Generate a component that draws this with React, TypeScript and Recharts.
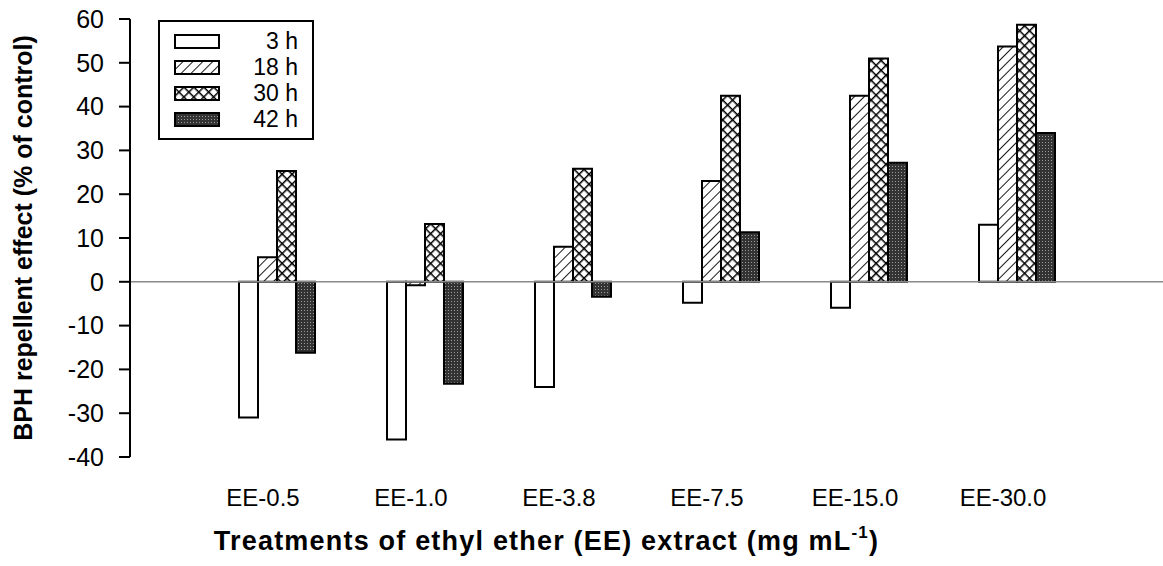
import React from "react";
import {
  BarChart,
  Bar,
  XAxis,
  YAxis,
  ReferenceLine,
  Label,
} from "recharts";

const categories = ["EE-0.5", "EE-1.0", "EE-3.8", "EE-7.5", "EE-15.0", "EE-30.0"];
const h3 = [-31, -36, -24, -4.8, -5.9, 13];
const h18 = [5.6, -0.8, 8, 23, 42.5, 53.7];
const h30 = [25.3, 13.2, 25.8, 42.5, 51, 58.7];
const h42 = [-16.2, -23.3, -3.4, 11.3, 27.2, 34];
const yTicks = [-40, -30, -20, -10, 0, 10, 20, 30, 40, 50, 60];

const series = [
  { key: "h3", name: "3 h", fill: "#ffffff" },
  { key: "h18", name: "18 h", fill: "url(#hatch18)" },
  { key: "h30", name: "30 h", fill: "url(#cross30)" },
  { key: "h42", name: "42 h", fill: "url(#dots42)" },
];

const data = categories.map((name, i) => ({
  name,
  h3: h3[i],
  h18: h18[i],
  h30: h30[i],
  h42: h42[i],
}));

const font = "'Liberation Sans', Arial, sans-serif";

// legend drawn as an overlay box, like the original figure
const LegendBox = () => (
  <div
    style={{
      position: "absolute",
      left: 158,
      top: 20,
      border: "2px solid #000",
      width: 152,
      padding: "6px 0",
      background: "#fff",
      fontFamily: font,
      fontSize: 23,
    }}
  >
    {series.map((s) => (
      <div key={s.key} style={{ display: "flex", alignItems: "center", height: 26 }}>
        <svg width={46} height={15} style={{ marginLeft: 14 }}>
          <rect x={1} y={1} width={44} height={13} fill={s.fill} stroke="#000" strokeWidth={2} />
        </svg>
        <span style={{ flex: 1, textAlign: "right", paddingRight: 14 }}>{s.name}</span>
      </div>
    ))}
  </div>
);

const XTick = ({ x, y, payload }: any) => (
  <text x={x - 14} y={y} dy="0.71em" textAnchor="middle" fontFamily={font} fontSize={24} fill="#000">
    {payload.value}
  </text>
);

export default function App() {
  return (
    <div style={{ position: "absolute", left: 0, top: 0, width: 1163, height: 566 }}>
      <BarChart
        width={1163}
        height={566}
        data={data}
        margin={{ top: 19, right: 0, bottom: 0, left: 0 }}
        barGap={0}
        barSize={19}
      >
        <defs>
          <pattern id="hatch18" width="7" height="7" patternUnits="userSpaceOnUse" patternTransform="rotate(45)">
            <rect width="7" height="7" fill="#fff" />
            <line x1="0" y1="0" x2="0" y2="7" stroke="#000" strokeWidth="1.8" />
          </pattern>
          <pattern id="cross30" width="7" height="7" patternUnits="userSpaceOnUse" patternTransform="rotate(45)">
            <rect width="7" height="7" fill="#fff" />
            <line x1="0" y1="0" x2="0" y2="7" stroke="#000" strokeWidth="3" />
            <line x1="0" y1="0" x2="7" y2="0" stroke="#000" strokeWidth="3" />
          </pattern>
          <pattern id="dots42" width="3" height="3" patternUnits="userSpaceOnUse">
            <rect width="3" height="3" fill="#333" />
            <rect x="1" y="1" width="1" height="1" fill="#999" />
          </pattern>
        </defs>
        <XAxis
          dataKey="name"
          axisLine={false}
          tickLine={false}
          tickSize={0}
          tickMargin={32}
          height={109}
          padding={{ left: 73, right: 72 }}
          tick={<XTick />}
        >
          <Label
            content={({ viewBox }: any) => (
              <text
                x={viewBox.x + viewBox.width / 2 - 100}
                y={viewBox.y + 93}
                textAnchor="middle"
                fontFamily={font}
                fontWeight="bold"
                fontSize={27}
                letterSpacing={1.2}
                fill="#000"
              >
                Treatments of ethyl ether (EE) extract (mg mL
                <tspan fontSize={17} dy={-12}>-1</tspan>
                <tspan dy={12}>)</tspan>
              </text>
            )}
          />
        </XAxis>
        <YAxis
          width={130}
          domain={[-40, 60]}
          ticks={yTicks}
          interval={0}
          stroke="#000"
          strokeWidth={2}
          tickSize={11}
          tickMargin={15}
          tick={{ fontSize: 25, fill: "#000", fontFamily: font }}
        >
          <Label
            content={({ viewBox }: any) => {
              const cx = viewBox.x + 23;
              const cy = viewBox.y + viewBox.height / 2;
              return (
                <text
                  x={cx}
                  y={cy}
                  transform={`rotate(-90 ${cx} ${cy})`}
                  textAnchor="middle"
                  dominantBaseline="central"
                  fontFamily={font}
                  fontWeight="bold"
                  fontSize={25}
                  fill="#000"
                >
                  BPH repellent effect (% of control)
                </text>
              );
            }}
          />
        </YAxis>
        <ReferenceLine y={0} stroke="#8a8a8a" strokeWidth={1.5} />
        {series.map((s) => (
          <Bar
            key={s.key}
            dataKey={s.key}
            name={s.name}
            fill={s.fill}
            stroke="#000"
            strokeWidth={2}
            isAnimationActive={false}
          />
        ))}
      </BarChart>
      <LegendBox />
    </div>
  );
}
